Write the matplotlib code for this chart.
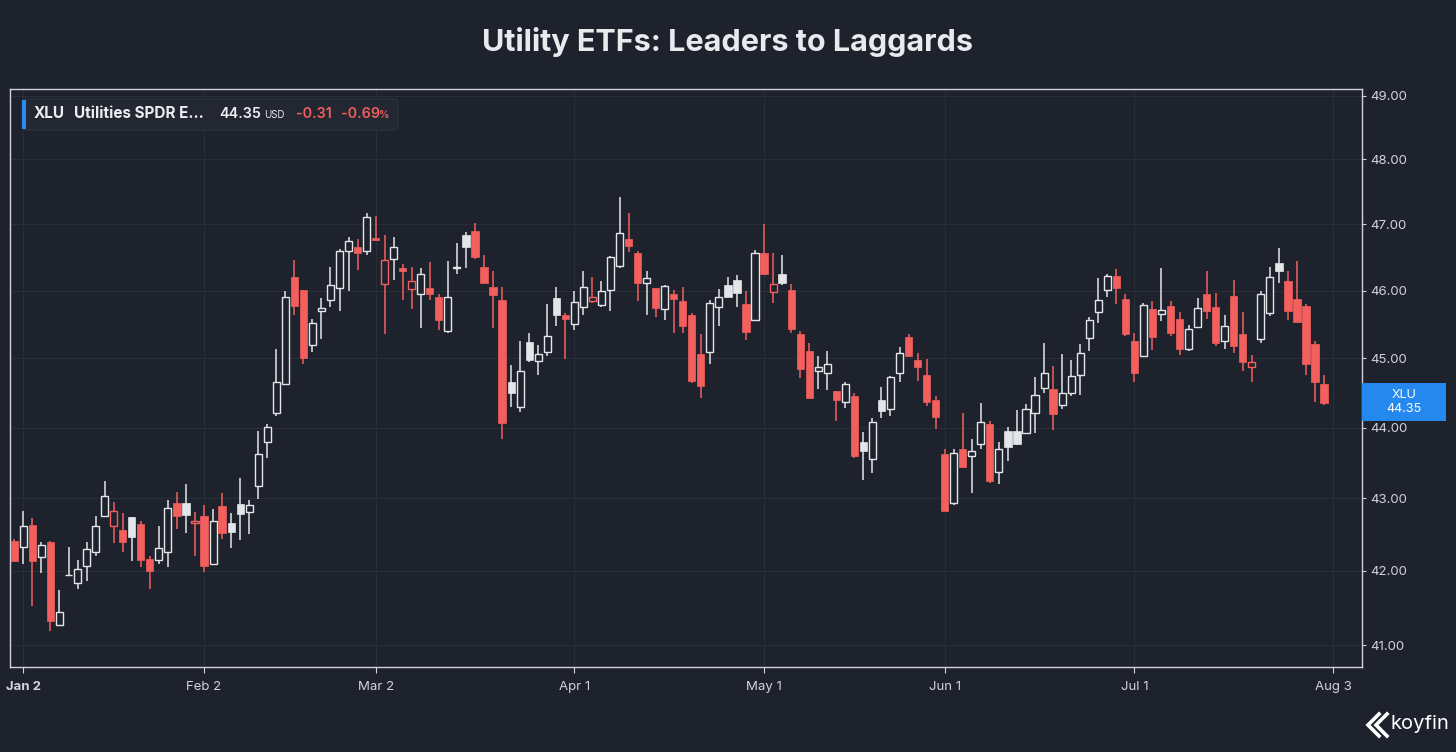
import matplotlib.pyplot as plt
import matplotlib.ticker as mticker
import pandas as pd
from matplotlib.lines import Line2D
from matplotlib.patches import FancyBboxPatch, Rectangle

plt.rcParams['font.family'] = ['Inter', 'DejaVu Sans']

# trading days shown (Dec 31 2025 .. Jul 31 2026)
holidays = ['2026-01-01', '2026-01-19', '2026-02-16', '2026-04-03',
            '2026-05-25', '2026-06-19', '2026-07-03']
dates = pd.bdate_range('2025-12-31', '2026-07-31', freq='C', holidays=holidays)

# XLU daily OHLC
opens = [42.41, 42.33, 42.63, 42.19, 42.40, 41.27, 41.94, 41.83, 42.06, 42.26,
         42.75, 42.61, 42.56, 42.74, 42.64, 42.16, 42.15, 42.26, 42.93, 42.94,
         42.66, 42.75, 42.10, 42.90, 42.66, 42.92, 42.81, 43.18, 43.79, 44.21,
         44.62, 46.20, 46.01, 45.19, 45.70, 45.86, 46.04, 46.60, 46.65, 46.59,
         46.79, 46.10, 46.48, 46.34, 46.02, 45.95, 46.04, 45.90, 45.40, 46.34,
         46.84, 46.90, 46.35, 46.05, 45.86, 44.65, 44.29, 45.24, 44.96, 45.09,
         45.89, 45.63, 45.50, 45.76, 45.85, 45.78, 46.01, 46.37, 46.78, 46.56,
         46.11, 46.04, 45.73, 45.95, 45.85, 45.64, 45.06, 45.09, 45.75, 46.09,
         46.16, 45.80, 45.57, 46.56, 45.98, 46.25, 46.01, 45.35, 45.10, 44.82,
         44.79, 44.53, 44.36, 44.45, 43.80, 43.55, 44.39, 44.27, 44.78, 45.31,
         44.98, 44.76, 44.40, 43.63, 42.93, 43.70, 43.60, 43.77, 44.05, 43.37,
         43.95, 43.95, 43.92, 44.21, 44.57, 44.55, 44.33, 44.49, 44.76, 45.30,
         45.68, 46.01, 46.22, 45.87, 45.26, 45.03, 45.73, 45.65, 45.77, 45.58,
         45.13, 45.46, 45.95, 45.75, 45.25, 45.92, 45.35, 44.88, 45.28, 45.67,
         46.41, 46.14, 45.87, 45.77, 45.21, 44.63]
highs = [42.44, 42.83, 42.73, 42.40, 42.41, 41.74, 42.33, 42.15, 42.40, 42.76,
         43.25, 42.95, 42.79, 42.74, 42.69, 42.20, 42.62, 42.98, 43.09, 43.20,
         42.81, 42.91, 42.85, 43.08, 42.80, 43.29, 42.98, 43.95, 44.05, 45.14,
         46.00, 46.46, 46.01, 45.58, 45.89, 46.35, 46.62, 46.81, 46.77, 47.17,
         47.13, 46.84, 46.81, 46.40, 46.35, 46.34, 46.43, 45.95, 46.44, 46.71,
         46.88, 47.02, 46.54, 46.29, 46.05, 44.90, 45.26, 45.37, 45.20, 45.80,
         46.06, 45.67, 46.00, 46.30, 46.21, 46.15, 46.52, 47.42, 47.17, 46.59,
         46.29, 46.04, 46.09, 46.01, 46.05, 45.67, 45.35, 45.86, 46.02, 46.21,
         46.24, 45.99, 46.61, 47.01, 46.57, 46.54, 46.10, 45.40, 45.23, 45.03,
         45.10, 44.53, 44.66, 44.50, 43.94, 44.13, 44.58, 44.74, 45.16, 45.36,
         45.08, 44.99, 44.45, 43.69, 43.70, 44.21, 43.84, 44.35, 44.10, 43.80,
         44.01, 44.25, 44.34, 44.73, 45.22, 44.89, 45.06, 44.98, 45.21, 45.61,
         46.19, 46.25, 46.32, 45.95, 45.37, 45.81, 45.84, 46.34, 45.84, 45.68,
         45.49, 45.89, 46.29, 45.96, 45.64, 46.16, 45.68, 45.05, 46.00, 46.35,
         46.64, 46.29, 46.44, 45.80, 45.25, 44.75]
lows = [42.13, 42.10, 41.52, 41.97, 41.19, 41.27, 41.93, 41.75, 41.86, 42.21,
        42.75, 42.38, 42.26, 42.14, 42.05, 41.75, 42.10, 42.05, 42.58, 42.52,
        42.21, 41.99, 42.10, 42.44, 42.31, 42.42, 42.50, 42.99, 43.57, 44.16,
        44.62, 45.64, 44.92, 45.09, 45.28, 45.76, 45.70, 46.00, 46.31, 46.54,
        46.75, 45.36, 46.16, 45.86, 45.73, 45.44, 45.86, 45.41, 45.37, 46.25,
        46.34, 46.47, 46.12, 45.44, 43.83, 44.30, 44.22, 44.94, 44.75, 45.03,
        45.48, 44.99, 45.42, 45.63, 45.81, 45.76, 45.70, 46.34, 46.58, 45.85,
        45.63, 45.60, 45.56, 45.37, 45.37, 44.64, 44.43, 44.92, 45.47, 45.90,
        45.76, 45.27, 45.57, 46.24, 45.81, 46.09, 45.37, 44.72, 44.43, 44.56,
        44.54, 44.09, 44.28, 43.57, 43.26, 43.35, 44.14, 44.17, 44.65, 45.04,
        44.67, 44.31, 43.98, 42.82, 42.91, 43.43, 43.07, 43.69, 43.21, 43.20,
        43.52, 43.75, 43.92, 43.92, 44.49, 43.97, 44.26, 44.45, 44.47, 45.11,
        45.52, 45.91, 45.80, 45.33, 44.65, 45.02, 45.12, 45.55, 45.33, 45.05,
        45.11, 45.46, 45.58, 45.18, 45.13, 45.08, 44.82, 44.65, 45.22, 45.62,
        46.12, 45.57, 45.53, 44.75, 44.36, 44.32]
closes = [42.13, 42.62, 42.14, 42.35, 41.32, 41.44, 41.95, 42.03, 42.30, 42.62,
          43.04, 42.82, 42.40, 42.46, 42.15, 42.00, 42.31, 42.86, 42.76, 42.77,
          42.68, 42.07, 42.68, 42.52, 42.54, 42.78, 42.91, 43.63, 44.01, 44.66,
          45.90, 45.77, 45.01, 45.52, 45.74, 46.08, 46.60, 46.74, 46.56, 47.11,
          46.76, 46.46, 46.65, 46.29, 46.14, 46.25, 45.95, 45.57, 45.90, 46.36,
          46.65, 46.51, 46.12, 45.94, 44.06, 44.50, 44.81, 44.98, 45.06, 45.32,
          45.64, 45.58, 45.83, 46.06, 45.90, 45.99, 46.50, 46.87, 46.67, 46.11,
          46.19, 45.74, 46.07, 45.88, 45.47, 44.67, 44.59, 45.81, 45.90, 45.91,
          45.97, 45.39, 46.57, 46.25, 46.10, 46.11, 45.43, 44.84, 44.43, 44.87,
          44.91, 44.40, 44.63, 43.59, 43.67, 44.08, 44.24, 44.73, 45.08, 45.04,
          44.87, 44.36, 44.15, 42.83, 43.64, 43.44, 43.67, 44.08, 43.25, 43.70,
          43.73, 43.77, 44.26, 44.47, 44.78, 44.19, 44.49, 44.74, 45.08, 45.56,
          45.86, 46.22, 46.04, 45.36, 44.78, 45.78, 45.31, 45.71, 45.37, 45.13,
          45.43, 45.74, 45.70, 45.23, 45.48, 45.18, 44.95, 44.94, 45.95, 46.20,
          46.30, 45.69, 45.53, 44.92, 44.66, 44.35]

ticker = 'XLU'
name = 'Utilities SPDR E…'
change = '-0.31'
change_pct = '-0.69'
y_ticks = [41, 42, 43, 44, 45, 46, 47, 48, 49]

BG = '#1e222d'
UP = '#e3e5e9'
DOWN = '#f25f5c'
TXT = '#d1d4dc'
W, H = 1456, 752


def fx(x):
    return x / W


def fy(y):
    return 1 - y / H


fig = plt.figure(figsize=(W / 100, H / 100), dpi=100, facecolor=BG)
ax = fig.add_axes([fx(10), fy(667), fx(1362) - fx(10), fy(89) - fy(667)])
ax.set_facecolor(BG)
ax.set_yscale('log')

# candles: hollow when close > open, red when close < previous close
for i in range(len(closes)):
    o, h, l, c = opens[i], highs[i], lows[i], closes[i]
    prev = closes[i - 1] if i > 0 else o
    col = UP if c >= prev else DOWN
    top, bot = max(o, c), min(o, c)
    hollow = c > o
    if hollow:
        ax.vlines(i, top, h, color=col, lw=1.1, zorder=2)
        ax.vlines(i, l, bot, color=col, lw=1.1, zorder=2)
        ax.bar(i, top - bot, bottom=bot, width=0.78, facecolor=BG,
               edgecolor=col, lw=1.0, zorder=3)
    else:
        ax.vlines(i, l, h, color=col, lw=1.1, zorder=2)
        ax.bar(i, max(top - bot, 0.01), bottom=bot, width=0.8, facecolor=col,
               edgecolor=col, lw=0.5, zorder=3)

ax.set_xlim(-0.48, 149.2)
ax.set_ylim(40.71, 49.11)

# month ticks: first trading day of each month, plus the next one (Aug 3)
tick_idx = [i for i in range(1, len(dates)) if dates[i].month != dates[i - 1].month]
tick_lab = [f'{dates[i]:%b} {dates[i].day}' for i in tick_idx]
tick_idx.append(len(dates))
tick_lab.append('Aug 3')
ax.set_xticks(tick_idx)
ax.set_xticklabels(tick_lab)
ax.get_xticklabels()[0].set_fontweight('bold')

ax.yaxis.tick_right()
ax.set_yticks(y_ticks)
ax.yaxis.set_major_formatter(mticker.FuncFormatter(lambda v, p: f'{v:.2f}'))
ax.yaxis.set_minor_locator(mticker.NullLocator())
ax.yaxis.set_minor_formatter(mticker.NullFormatter())
ax.tick_params(axis='y', colors=TXT, labelsize=9.5, length=3, pad=3)
ax.tick_params(axis='x', colors=TXT, labelsize=9.5, length=4, pad=6)
ax.grid(True, color='#2a2e39', lw=0.8, zorder=0)
for s in ax.spines.values():
    s.set_color('#d1d4dc')
    s.set_linewidth(1.0)

# title
fig.text(0.5, fy(42), 'Utility ETFs: Leaders to Laggards', ha='center', va='center',
         fontsize=22, fontweight='bold', color='#e8eaee')

# legend box
fig.patches.append(FancyBboxPatch((fx(22), fy(130)), fx(398) - fx(22), fy(99) - fy(130),
                                  boxstyle='round,pad=0,rounding_size=0.004',
                                  transform=fig.transFigure, facecolor='#232732',
                                  edgecolor='#2f333e', lw=0.8))
fig.patches.append(Rectangle((fx(22), fy(129)), fx(26) - fx(22), fy(100) - fy(129),
                             transform=fig.transFigure, facecolor='#2a8cf0', lw=0))
ly = fy(114)
fig.text(fx(34), ly, ticker, fontsize=11, fontweight='bold', color='#eceef2', va='center')
fig.text(fx(74), ly, name, fontsize=11, fontweight='bold', color='#eceef2', va='center')
fig.text(fx(219), ly, f'{closes[-1]:.2f}', fontsize=10.3, fontweight='semibold',
         color='#eceef2', va='center')
fig.text(fx(264), fy(115), 'USD', fontsize=7, color='#eceef2', va='center')
fig.text(fx(296), ly, change, fontsize=10.3, fontweight='semibold', color=DOWN, va='center')
fig.text(fx(341), ly, change_pct, fontsize=10.3, fontweight='semibold', color=DOWN, va='center')
fig.text(fx(379), fy(115), '%', fontsize=7.5, fontweight='semibold', color=DOWN, va='center')

# last price tag on the right axis
fig.patches.append(Rectangle((fx(1362), fy(421)), fx(1446) - fx(1362), fy(383) - fy(421),
                             transform=fig.transFigure, facecolor='#2488ee', lw=0))
fig.text(fx(1404), fy(395), ticker, fontsize=9, color='white', ha='center', va='center')
fig.text(fx(1404), fy(409), f'{closes[-1]:.2f}', fontsize=9, color='white',
         ha='center', va='center')

# koyfin mark
for dx in (0, 8):
    fig.lines.append(Line2D([fx(1379 + dx), fx(1368 + dx), fx(1379 + dx)],
                            [fy(714), fy(725), fy(736)], transform=fig.transFigure,
                            color='white', lw=2.6, solid_joinstyle='miter'))
fig.text(fx(1391), fy(724), 'koyfin', fontsize=14.5, color='white', va='center')

fig.savefig('out.png', dpi=100, facecolor=BG)
